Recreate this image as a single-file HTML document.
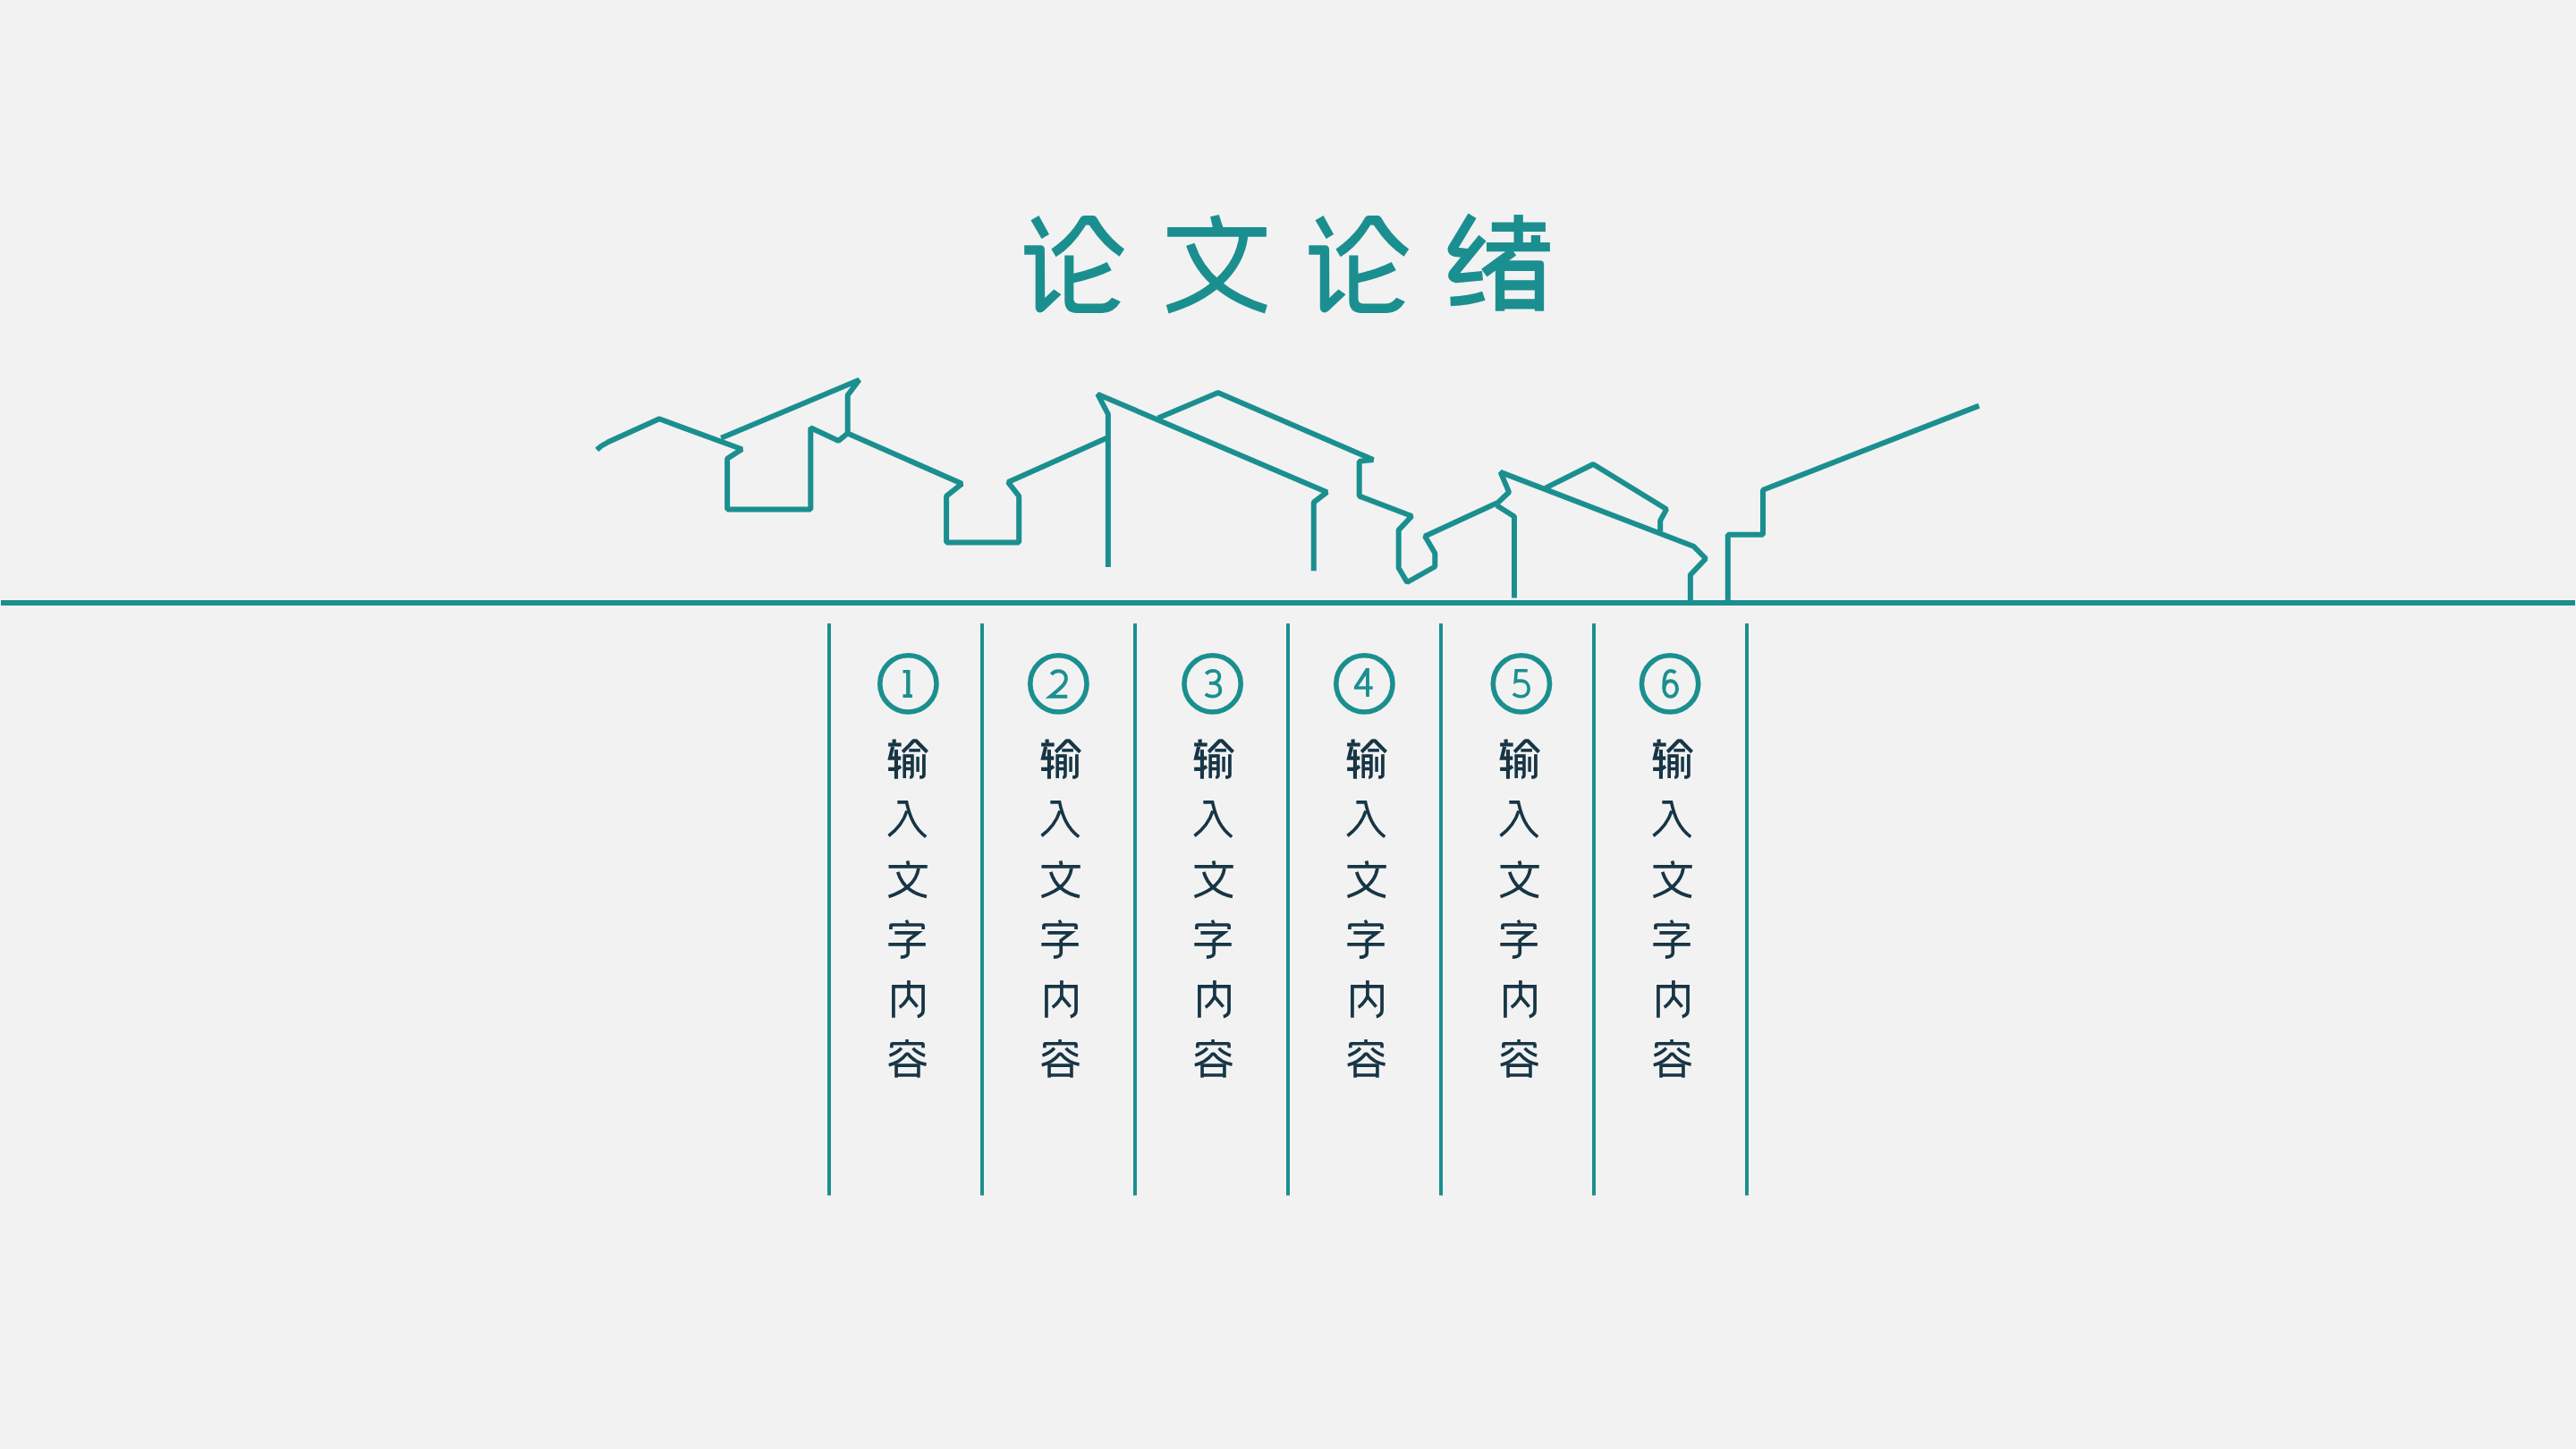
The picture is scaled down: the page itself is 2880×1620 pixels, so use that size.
<!DOCTYPE html>
<html lang="zh-CN">
<head>
<meta charset="utf-8">
<style>
html,body{margin:0;padding:0;}
body{width:2880px;height:1620px;background:#f2f2f2;position:relative;overflow:hidden;font-family:"Liberation Sans",sans-serif;}
svg{position:absolute;left:0;top:0;}
</style>
</head>
<body>
<svg width="2880" height="1620" viewBox="0 0 2880 1620">
<g fill="none" stroke="#1b8f8f" stroke-width="6" stroke-linejoin="bevel" stroke-linecap="butt">
<path id="pA" d="M667.3,502.8 Q672,498 679.3,494.6 L737.1,468.3 L829.5,502.3 L813.1,512.7 L813.1,569.6 L906.3,569.6 L906.3,478.2 L937.3,492.8 L947.7,484.5 L1075.4,540.8 L1058.1,554.6 L1058.1,606.4 L1139.2,606.4 L1139.2,554.6 L1127.1,539.1 L1238.9,489.0"/>
<path id="pB" d="M806.2,489.7 L960.6,424.7 L947.7,441.9 L947.7,484.5"/>
<path id="pC" d="M1238.9,634 L1238.9,463.1 L1227.2,440.7 L1483.5,550.3 L1468.8,561.5 L1468.8,638.3"/>
<path id="pD" d="M1294.5,467.5 L1361.8,439.0 L1535.3,514 L1519.7,515.8 L1519.7,554.6 L1578.4,577.0 L1563.7,592.6 L1563.7,635 L1573.2,651 L1604.3,633.5 L1604.3,618.5 L1593.1,599.5 L1673.3,562.5"/>
<path id="pE" d="M1673.3,563.2 L1687.1,550.3 L1677.6,527.9 L1893.3,610.7 L1907.1,624.5 L1889.9,642.6 L1889.9,674"/>
<path id="pE2" d="M1673.3,565 L1693,577.5 L1693,668.5"/>
<path id="pF" d="M1727.8,545.6 L1781.2,519.0 L1863.1,569.3 L1856.2,582.2 L1856.2,594.3"/>
<path id="pG" d="M1931.8,674 L1931.8,597.7 L1971,597.7 L1971,547.7 L2212.6,453.6"/>
<path d="M1,674 L2879,674" stroke-width="6"/>
</g>
<g stroke="#1b8f8f" stroke-width="4">
<path d="M927,697V1336.4M1098,697V1336.4M1269,697V1336.4M1440,697V1336.4M1611,697V1336.4M1782,697V1336.4M1953,697V1336.4"/>
</g>
<g fill="none" stroke="#1b8f8f" stroke-width="5.6">
<circle cx="1015.4" cy="764.4" r="31.6"/>
<circle cx="1183.4" cy="764.4" r="31.6"/>
<circle cx="1355.6" cy="764.4" r="31.6"/>
<circle cx="1525.4" cy="764.4" r="31.6"/>
<circle cx="1700.9" cy="764.4" r="31.6"/>
<circle cx="1867.1" cy="764.4" r="31.6"/>
</g>
</svg>

<svg width="2880" height="1620" viewBox="0 0 2880 1620">
<g fill="#1b8f8f">
<g id="lun" transform="translate(1140,235) scale(0.08420)">
<path d="M148,135 L255,72 L392,320 L292,380 Z"/>
<path d="M62,467 L275,467 Q332,467 332,525 L335,1165 L455,1050 L552,1120 L320,1340 Q280,1370 245,1355 Q210,1335 210,1290 L210,592 L62,592 Z"/>
<path d="M420,518 Q680,330 795,120 Q818,72 860,72 L975,72 Q1012,72 1035,120 Q1160,340 1390,518 L1325,615 Q1100,470 925,198 L880,195 Q710,480 482,622 Z"/>
<path d="M597,600 L717,600 L717,840 Q950,790 1160,688 L1220,800 Q990,910 717,965 L717,1180 Q717,1240 780,1240 L1090,1240 Q1160,1240 1225,1160 L1340,1215 Q1250,1365 1100,1365 L760,1365 Q597,1365 597,1200 Z"/>
</g>
<use href="#lun" x="318.1" y="0"/>
<g transform="translate(1298,235) scale(0.08420)">
<path d="M655,85 L770,58 L828,240 L690,240 Z"/>
<path d="M85,225 H1400 V352 H85 Z"/>
<path d="M1097,340 C1040,820 620,1160 85,1315" fill="none" stroke="#1b8f8f" stroke-width="118"/>
<path d="M390,455 C520,850 850,1150 1395,1315" fill="none" stroke="#1b8f8f" stroke-width="118"/>
</g>
<g transform="translate(1614,232) scale(0.08972)">
<g fill="none" stroke="#1b8f8f" stroke-width="118" stroke-linejoin="round">
<path d="M357,103 L112,510 Q100,545 150,555 L300,572"/>
<path d="M485,380 L125,820 Q95,870 160,880 L485,850"/>
<path d="M85,1170 Q320,1160 500,1100"/>
<path d="M870,548 L505,815" stroke-linejoin="miter"/>
</g>
<path d="M875,90 H990 V440 H875 Z"/>
<path d="M600,185 H1270 V300 H600 Z"/>
<path d="M1090,345 H1205 V440 H1090 Z"/>
<path d="M535,435 H1325 V548 H535 Z"/>
<path fill-rule="evenodd" d="M645,700 Q645,660 690,660 L1200,660 Q1250,660 1250,710 L1250,1290 L1135,1290 L1135,1265 L760,1265 L760,1290 L645,1290 Z M760,790 L1135,790 L1135,905 L760,905 Z M760,1030 L1135,1030 L1135,1140 L760,1140 Z"/>
</g>
</g>
</svg>

<svg width="2880" height="1620" viewBox="0 0 2880 1620">
<g fill="#1b8f8f">
<g transform="translate(975,725) scale(0.055218)">
<path d="M625,435 H770 V930 H815 V995 H625 V930 H690 V500 H625 Z"/>
</g>
<g transform="translate(1143,725) scale(0.055218)">
<path d="M585,525 C630,475 680,457 730,457 C830,457 885,522 885,612 C885,700 820,772 565,975 H910" fill="none" stroke="#1b8f8f" stroke-width="72"/>
</g>
<g transform="translate(1335,740) scale(0.034507)" fill="none" stroke="#1b8f8f" stroke-width="112">
<path d="M385,385 C460,310 540,287 610,287 C740,287 822,362 822,472 C822,600 722,690 600,690 L490,690 M600,690 C760,690 848,790 848,910 C848,1050 740,1120 600,1120 C510,1120 430,1092 370,1040"/>
</g>
<g transform="translate(1505,740) scale(0.034507)">
<path fill-rule="evenodd" d="M640,205 H750 V790 H860 V890 H750 V1130 H640 V890 H260 V800 Z M640,440 L395,790 H640 Z"/>
</g>
<g transform="translate(1681,740) scale(0.034507)" fill="none" stroke="#1b8f8f" stroke-width="105">
<path d="M775,282 H412 L385,635 C440,605 510,612 560,612 C720,612 815,720 815,870 C815,1030 710,1122 560,1122 C450,1122 370,1085 315,1030"/>
</g>
<g transform="translate(1847,740) scale(0.034507)" fill="none" stroke="#1b8f8f" stroke-width="112">
<ellipse cx="600" cy="870" rx="212" ry="255"/>
<path d="M390,870 C370,500 440,290 600,290 C670,290 720,310 760,355"/>
</g>
</g>
</svg>

<svg width="2880" height="1620" viewBox="0 0 2880 1620">
<defs>
<g id="gcol" fill="none" stroke="#173545" stroke-linejoin="miter">
<g transform="translate(988,820) scale(0.039339)" stroke-width="105">
<path d="M292,165 L300,275"/>
<path d="M130,318 H500"/>
<path d="M258,375 L178,702 H490"/>
<path d="M355,460 V1290"/>
<path d="M130,1015 H360 L485,935"/>
<path d="M540,525 Q700,370 850,210 H920 Q1070,370 1235,525" stroke-linejoin="round"/>
<path d="M720,480 H1040" stroke-width="90"/>
<path d="M590,1270 V640 H812 V1180 Q812,1250 740,1245" stroke-width="92"/>
<path d="M590,832 H812 M590,1005 H812" stroke-width="90"/>
<path d="M968,660 V1090" stroke-width="88"/>
<path d="M1142,590 V1180 Q1142,1245 1020,1245" stroke-width="95"/>
</g>
<g transform="translate(988,888) scale(0.039339)" stroke-width="92">
<path d="M390,225 H650 C740,640 870,960 1200,1212"/>
<path d="M660,470 C560,800 380,1000 140,1182"/>
</g>
<g transform="translate(988,955) scale(0.039339)" stroke-width="95">
<path d="M675,190 L705,305"/>
<path d="M140,352 H1240"/>
<path d="M990,400 C930,800 620,1050 140,1205"/>
<path d="M400,505 C520,900 800,1120 1220,1205"/>
</g>
<g transform="translate(988,1022) scale(0.039339)" stroke-width="95">
<path d="M640,170 L690,265" stroke-width="85"/>
<path d="M202,432 V340 Q202,305 240,305 H1080 Q1120,305 1120,340 V432"/>
<path d="M315,532 H975 L692,745 V1100 Q692,1225 480,1225"/>
<path d="M135,862 H1190"/>
</g>
<g transform="translate(988,1089) scale(0.039339)" stroke-width="95">
<path d="M710,180 V640"/>
<path d="M278,1240 V352 H1120 V1030 Q1120,1170 960,1210"/>
<path d="M710,640 C640,770 570,870 450,945"/>
<path d="M710,640 L955,930"/>
</g>
<g transform="translate(988,1155) scale(0.039339)" stroke-width="92">
<path d="M662,180 V262"/>
<path d="M225,420 V330 Q225,300 255,300 H1090 Q1120,300 1120,330 V420"/>
<path d="M505,425 Q380,560 165,638"/>
<path d="M830,430 Q950,570 1170,640"/>
<path d="M145,908 C370,860 520,760 652,590 H688 C820,760 970,860 1210,892" stroke-linejoin="round"/>

<path d="M357,1265 V917 H990 V1265 M357,1195 H990"/>
</g>
</g>
</defs>
<use href="#gcol"/>
<use href="#gcol" x="171"/>
<use href="#gcol" x="342"/>
<use href="#gcol" x="513"/>
<use href="#gcol" x="684"/>
<use href="#gcol" x="855"/>
</svg>
</body>
</html>
